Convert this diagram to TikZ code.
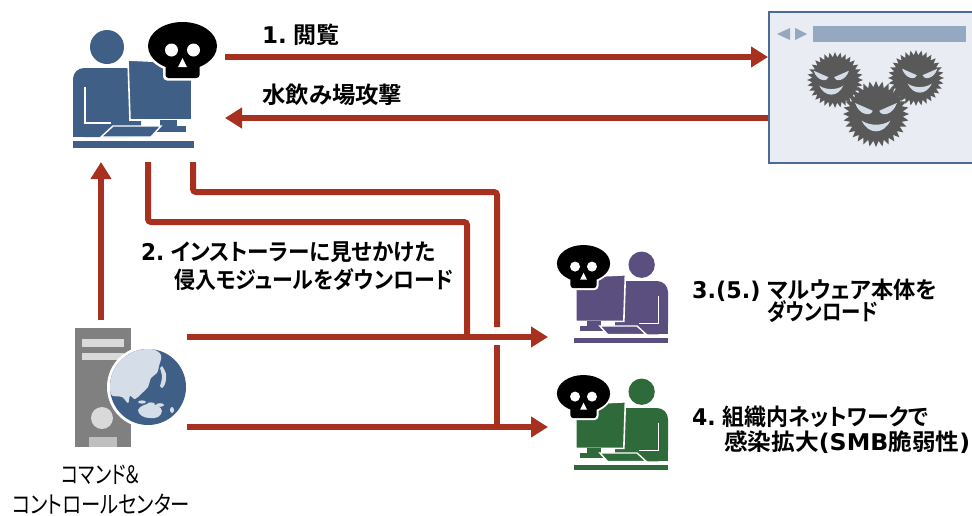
\documentclass[tikz,border=0pt]{standalone}
\usepackage{graphicx}
\usepackage{fontspec}
\setmainfont{Noto Sans CJK JP}[RawFeature=+palt, BoldFont={Noto Sans CJK JP Bold}]
\newfontfamily\latinb{DejaVu Sans}[BoldFont={DejaVu Sans Bold}]
\usetikzlibrary{arrows.meta}

% set a line of text to a given width (in pt), keeping its height
\newcommand{\squeezeto}[2]{\resizebox{#1pt}{\height}{#2}}

\definecolor{flowred}{HTML}{A8301F}
\definecolor{userblue}{HTML}{3F5F86}
\definecolor{userpurple}{HTML}{5A4F7F}
\definecolor{usergreen}{HTML}{2F6B3A}
\definecolor{pagebg}{HTML}{E9ECF3}
\definecolor{pageframe}{HTML}{4A6A97}
\definecolor{barblue}{HTML}{95A8C2}
\definecolor{germgray}{HTML}{595959}
\definecolor{germface}{HTML}{D4DCE8}
\definecolor{towergray}{HTML}{808080}
\definecolor{towerlight}{HTML}{D9D9D9}
\definecolor{towerfoot}{HTML}{BFBFBF}
\definecolor{landlight}{HTML}{D5DDE9}

\tikzset{
  flow/.style={draw=flowred, line width=6pt, -{Triangle[length=17pt,width=20pt]}},
  link/.style={draw=flowred, line width=6pt, rounded corners=3pt},
  note/.style={inner sep=0pt, anchor=west, font=\fontsize{23}{27}\selectfont\bfseries},
  cctext/.style={inner sep=0pt, font=\fontsize{24}{28}\selectfont},
  % person at a computer; origin = lower left corner of the desk
  pics/worker/.style={code={
    \fill[#1] (34,-101) circle (17);
    \fill[#1, rounded corners=11pt] (0,-11) rectangle (68,-80);
    \fill[#1] (0,-11) rectangle (68,-45);
    \draw[white, line width=1.4pt] (12,-61) -- (12,-25) -- (38,-25);
    \filldraw[fill=#1, draw=white, line width=1.6pt] (55,-88) -- (119,-85) -- (119,-28) -- (57,-28) -- cycle;
    \fill[#1] (87,-28) rectangle (104,-22);
    \fill[#1] (80,-22) rectangle (113,-16);
    \filldraw[fill=#1, draw=white, line width=1.4pt] (28,-11) -- (40,-22) -- (88,-22) -- (78,-11) -- cycle;
    \fill[#1] (0,-7) rectangle (121,0);
  }},
  % skull badge; origin = centre of the cranium
  pics/skull/.style={code={
    \fill[white] (0,0) ellipse [x radius=37, y radius=26.5];
    \fill[white, rounded corners=4pt] (-19.5,6) rectangle (19.5,34.5);
    \fill[black] (0,0) ellipse [x radius=34.5, y radius=24];
    \fill[black, rounded corners=3pt] (-17,6) rectangle (17,32);
    \fill[white] (-11,4) circle (6.5) (11,4) circle (6.5);
    \fill[white] (0,12) -- (-4.5,21) -- (4.5,21) -- cycle;
  }},
  % spiky germ with an angry face; argument = horizontal face offset
  pics/germ/.style={code={
    \fill[germgray] (0:30) \foreach \k in {1,...,32} { -- ({(\k-0.5)*11.25}:24.5) -- ({\k*11.25}:30) } -- cycle;
    \begin{scope}[shift={(#1,0)}]
      \fill[germface] (-19,-10) -- (-3,-3) .. controls (-4,2) and (-15,2) .. cycle;
      \fill[germface] (19,-10) -- (3,-3) .. controls (4,2) and (15,2) .. cycle;
      \fill[germface] (-13,6) .. controls (-7,19) and (7,19) .. (13,6) .. controls (6,11) and (-6,11) .. cycle;
    \end{scope}
  }},
}

\begin{document}
\begin{tikzpicture}[x=1pt,y=-1pt]
\useasboundingbox (0,0) rectangle (972,515);
\clip (0,0) rectangle (972,515);

% ---- web page with germs ----
\node[draw=pageframe, fill=pagebg, line width=2pt, minimum width=230pt,
      minimum height=151pt, anchor=north west, inner sep=0pt] (web) at (768,11) {};
\fill[barblue] (777,34) -- (790,28) -- (790,40) -- cycle;
\fill[barblue] (795,28) -- (807,34) -- (795,40) -- cycle;
\fill[barblue] (813,26) rectangle (966,42);
\pic[scale=0.93] at (835,80) {germ=-4};
\pic[scale=0.93] at (916,78) {germ=4};
\pic[scale=1.1] at (876,114) {germ=0};

% ---- users ----
\pic at (73,148) {worker=userblue};
\pic at (182.5,46) {skull};
\pic[xscale=-0.775, yscale=0.775] at (668,343) {worker=userpurple};
\pic[scale=0.77] at (583.5,263.5) {skull};
\pic[xscale=-0.775, yscale=0.775] at (668,470) {worker=usergreen};
\pic[scale=0.77] at (583.5,393.5) {skull};

% ---- command & control server ----
\fill[towergray] (75,328) rectangle (131,447);
\fill[towerlight] (82,339) rectangle (124,347);
\fill[towerlight] (82,353) rectangle (124,360);
\fill[towerlight] (102,418) circle (11);
\fill[towerfoot] (89,437) rectangle (117,447);
\fill[white] (148,387) circle (41);
\fill[userblue] (148,387) circle (38);
\begin{scope}
  \clip (148,387) circle (38);
  \fill[landlight] plot[smooth cycle, tension=0.6] coordinates {
    (108,364) (122,354) (138,349) (152,349) (161,355) (159,366) (157,373)
    (151,378) (148,387) (141,394) (135,399) (130,396) (128,403) (122,397) (110,393)};
  \fill[landlight] plot[smooth, tension=0.7] coordinates {(162,366) (166,374) (165,384) (162,388)}
    -- plot[smooth, tension=0.7] coordinates {(160,386) (162,377) (160,368)} -- cycle;
  \fill[landlight] (142,402) ellipse [x radius=4, y radius=1.6];
  \fill[landlight] (151,404) ellipse [x radius=4, y radius=1.6];
  \fill[landlight] (160,405) ellipse [x radius=4, y radius=1.8];
  \fill[landlight] plot[smooth cycle, tension=0.7] coordinates {
    (138,410) (144,405) (151,404) (158,406) (162,411) (158,417) (150,418) (142,416)};
  \fill[landlight] (172,410) ellipse [x radius=2, y radius=3];
\end{scope}

% ---- anchor points for connectors ----
\coordinate (u1) at (225,57);
\coordinate (u2) at (225,118);
\coordinate (outA) at (148,162);
\coordinate (outB) at (193,162);
\coordinate (kA) at (467,222);
\coordinate (kB) at (497,192);
\coordinate (hopTop) at (497,327);
\coordinate (hopBot) at (497,345);
\coordinate (ccTop) at (101,320);
\coordinate (userFoot) at (101,162);
\coordinate (ccOutA) at (187,337);
\coordinate (ccOutB) at (187,427);
\coordinate (purpleIn) at (548,337);
\coordinate (greenIn) at (548,427);

% ---- connectors ----
\draw[flow] (u1) -- (u1 -| web.west);
\draw[flow] (u2 -| web.west) -- (u2);
\draw[flow] (ccTop) -- (userFoot);
\draw[link] (outA) |- (kA) -- (kA |- ccOutA);
\draw[link] (outB) |- (kB) -- (hopTop);
\draw[link] (hopBot) -- (kB |- ccOutB);
\draw[flow] (ccOutA) -- (purpleIn);
\draw[flow] (ccOutB) -- (greenIn);

% ---- labels ----
\node[note] (t1) at (262,35) {{\latinb 1.} 閲覧};
\node[note] (tw) at (262,95) {\squeezeto{140}{水飲み場攻撃}};
\node[note] (t2a) at (141,252) {\squeezeto{294}{{\latinb 2.} インストーラーに見せかけた}};
\node[note] (t2b) at (174,280) {\squeezeto{279}{侵入モジュールをダウンロード}};
\node[note] (t3a) at (692,290) {\squeezeto{245}{{\latinb 3.(5.)} マルウェア本体を}};
\node[note] (t3b) at (767,312) {\squeezeto{111}{ダウンロード}};
\node[note] (t4a) at (692,417) {\squeezeto{236}{{\latinb 4.} 組織内ネットワークで}};
\node[note] (t4b) at (724,442) {\squeezeto{246}{感染拡大{\latinb (SMB}脆弱性{\latinb )}}};
\node[cctext] (cc1) at (101,475) {\squeezeto{79}{コマンド＆}};
\node[cctext] (cc2) at (101,504) {\squeezeto{178}{コントロールセンター}};
\end{tikzpicture}
\end{document}
